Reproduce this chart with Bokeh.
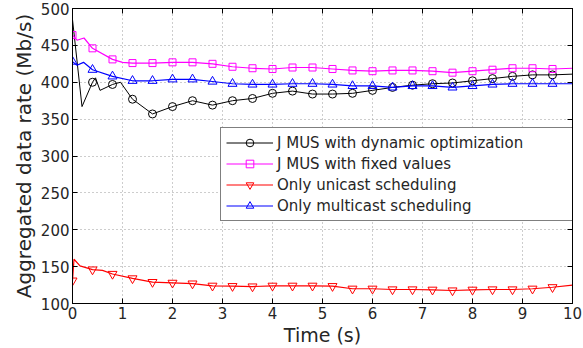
from bokeh.plotting import figure
from bokeh.models import LinearAxis, Range1d, FixedTicker, Legend, LegendItem
from bokeh.embed import file_html
from bokeh.resources import INLINE

# ---- data ----
t_marks = [0.0, 0.4, 0.8, 1.2, 1.6, 2.0, 2.4, 2.8, 3.2, 3.6, 4.0, 4.4, 4.8,
           5.2, 5.6, 6.0, 6.4, 6.8, 7.2, 7.6, 8.0, 8.4, 8.8, 9.2, 9.6]

# J MUS with dynamic optimization (markers from 0.4 s)
dyn_mark_t = t_marks[1:]
dyn_mark_v = [400, 397, 377, 357, 367, 375, 369, 375, 378, 385, 388, 384,
              384, 385, 389, 393, 396, 398, 399, 402, 405, 408, 410, 410]
dyn_line_t = [0.0, 0.19, 0.4, 0.46, 0.55, 0.8, 0.96, 1.2, 1.6, 2.0, 2.4, 2.8,
              3.2, 3.6, 4.0, 4.4, 4.8, 5.2, 5.6, 6.0, 6.4, 6.8, 7.2, 7.6,
              8.0, 8.4, 8.8, 9.2, 9.6, 10.0]
dyn_line_v = [485, 367, 400, 406, 389, 397, 400, 377, 357, 367, 375, 369,
              375, 378, 385, 388, 384, 384, 385, 389, 393, 396, 398, 399,
              402, 405, 408, 410, 410, 411]

# J MUS with fixed values
fix_mark_v = [464, 446, 431, 426, 426, 427, 427, 425, 421, 419, 418, 420, 420,
              418, 416, 415, 416, 416, 415, 413, 415, 417, 419, 419, 418]
fix_line_t = [0.0, 0.09, 0.23, 0.4, 0.8, 1.0, 1.2, 1.6, 2.0, 2.4, 2.8, 3.2,
              3.6, 4.0, 4.4, 4.8, 5.2, 5.6, 6.0, 6.4, 6.8, 7.2, 7.6, 8.0,
              8.4, 8.8, 9.2, 9.6, 10.0]
fix_line_v = [464, 457, 460, 446, 431, 427, 426, 426, 427, 427, 425, 421,
              419, 418, 420, 420, 418, 416, 415, 416, 416, 415, 413, 415,
              417, 419, 419, 418, 419]

# Only unicast scheduling
uni_mark_v = [131, 146, 140, 134, 129, 128, 127, 124, 123.5, 123, 124, 124, 124,
              123.5, 120, 120, 119, 119, 118.6, 117.6, 118.6, 119, 119, 120, 122]
uni_line_t = [0.0, 0.03, 0.15, 0.4, 0.6, 0.8, 1.2, 1.6, 2.0, 2.4, 2.8, 3.2,
              3.6, 4.0, 4.4, 4.8, 5.2, 5.6, 6.0, 6.4, 6.8, 7.2, 7.6, 8.0,
              8.4, 8.8, 9.2, 9.6, 10.0]
uni_line_v = [131, 160, 151, 146, 145, 140, 134, 129, 128, 127, 124, 123.5,
              123, 124, 124, 124, 123.5, 120, 120, 119, 119, 118.6, 117.6, 118.6,
              119, 119, 120, 122, 125]

# Only multicast scheduling
mul_mark_v = [428, 417, 408, 402, 402, 404, 404, 401, 398, 397, 397, 398, 398,
              397, 395, 395, 393, 395, 395, 393, 395, 397, 398, 398, 398]
mul_line_t = [0.0, 0.09, 0.22, 0.4, 0.8, 1.2, 1.6, 2.0, 2.4, 2.8, 3.2, 3.6,
              4.0, 4.4, 4.8, 5.2, 5.6, 6.0, 6.4, 6.8, 7.2, 7.6, 8.0, 8.4,
              8.8, 9.2, 9.6, 10.0]
mul_line_v = [428, 423, 427, 417, 408, 402, 402, 404, 404, 401, 398, 397,
              397, 398, 398, 397, 395, 395, 393, 395, 395, 393, 395, 397,
              398, 398, 398, 398]

labels = ["J MUS with dynamic optimization", "J MUS with fixed values",
          "Only unicast scheduling", "Only multicast scheduling"]
x_ticks = list(range(0, 11))
y_ticks = list(range(100, 501, 50))

TXT = "#262626"
FONT = "DejaVu Sans"

p = figure(width=583, height=348, x_range=Range1d(0, 10), y_range=Range1d(100, 500),
           output_backend="svg", toolbar_location=None,
           min_border_left=72, min_border_right=11, min_border_top=8, min_border_bottom=45)
p.background_fill_color = "white"
p.border_fill_color = "white"
p.outline_line_color = "black"
p.outline_line_width = 1

for ax in p.xaxis + p.yaxis:
    ax.major_tick_in = 5
    ax.major_tick_out = 0
    ax.minor_tick_in = 0
    ax.minor_tick_out = 0
    ax.axis_line_color = "black"
    ax.major_tick_line_color = "black"
    ax.major_label_text_font = FONT
    ax.major_label_text_font_size = "15px"
    ax.major_label_text_color = TXT
    ax.axis_label_text_font = FONT
    ax.axis_label_text_font_style = "normal"
    ax.axis_label_text_color = TXT
    ax.major_label_standoff = 3
    ax.axis_label_standoff = 2
p.xaxis.ticker = FixedTicker(ticks=x_ticks)
p.yaxis.ticker = FixedTicker(ticks=y_ticks)
p.xaxis.axis_label = "Time (s)"
p.yaxis.axis_label = "Aggregated data rate (Mb/s)"
p.xaxis.axis_label_text_font_size = "19px"
p.yaxis.axis_label_text_font_size = "20px"

for loc, tk in (("above", x_ticks), ("right", y_ticks)):
    ax = LinearAxis(ticker=FixedTicker(ticks=tk))
    ax.major_tick_in = 5
    ax.major_tick_out = 0
    ax.minor_tick_in = 0
    ax.minor_tick_out = 0
    ax.major_label_overrides = {t: "" for t in tk}
    ax.major_label_text_font_size = "1px"
    ax.major_label_standoff = 0
    ax.axis_line_color = "black"
    ax.major_tick_line_color = "black"
    p.add_layout(ax, loc)

p.grid.grid_line_color = "#9a9a9a"
p.grid.grid_line_dash = "1 3"
p.grid.grid_line_width = 1
p.xgrid.ticker = FixedTicker(ticks=x_ticks)
p.ygrid.ticker = FixedTicker(ticks=y_ticks)

items = []
l1 = p.line(dyn_line_t, dyn_line_v, line_color="black", line_width=1)
m1 = p.scatter(dyn_mark_t, dyn_mark_v, marker="circle", size=8, line_color="black",
               fill_color=None, line_width=1)
items.append(LegendItem(label=labels[0], renderers=[l1, m1]))
l2 = p.line(fix_line_t, fix_line_v, line_color="#ff00ff", line_width=1.2)
m2 = p.scatter(t_marks, fix_mark_v, marker="square", size=7, line_color="#ff00ff",
               fill_color=None, line_width=1)
items.append(LegendItem(label=labels[1], renderers=[l2, m2]))
l3 = p.line(uni_line_t, uni_line_v, line_color="#ff0000", line_width=1.2)
m3 = p.scatter(t_marks, uni_mark_v, marker="inverted_triangle", size=9, line_color="#ff0000",
               fill_color=None, line_width=1)
items.append(LegendItem(label=labels[2], renderers=[l3, m3]))
l4 = p.line(mul_line_t, mul_line_v, line_color="#0000ff", line_width=1.2)
m4 = p.scatter(t_marks, mul_mark_v, marker="triangle", size=9, line_color="#0000ff",
               fill_color=None, line_width=1)
items.append(LegendItem(label=labels[3], renderers=[l4, m4]))

legend = Legend(items=items, location=(148, 82))
legend.label_text_font = FONT
legend.label_text_font_size = "15px"
legend.label_text_color = TXT
legend.glyph_width = 47
legend.glyph_height = 19
legend.label_height = 19
legend.label_width = 300
legend.spacing = 2
legend.padding = 5
legend.margin = 0
legend.label_standoff = 4
legend.border_line_color = "black"
legend.border_line_width = 1
legend.background_fill_color = "white"
legend.background_fill_alpha = 1
p.add_layout(legend, "center")

open("out.html", "w").write(file_html(p, INLINE))
